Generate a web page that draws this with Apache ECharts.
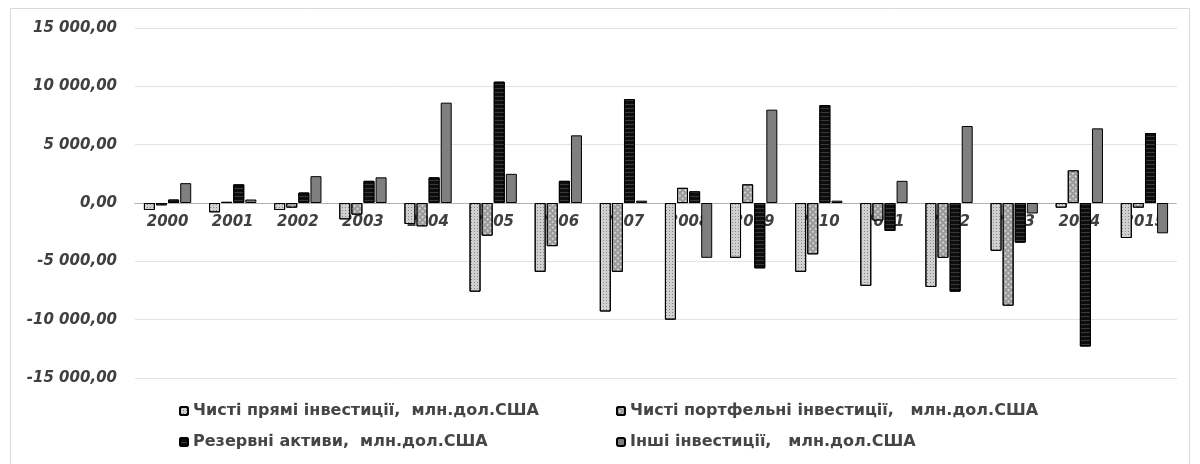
<!DOCTYPE html>
<html><head><meta charset="utf-8">
<script src="https://cdn.jsdelivr.net/npm/echarts@6/dist/echarts.min.js"></script>
<style>html,body{margin:0;padding:0;background:#fff}#c{width:1200px;height:464px}</style>
</head><body><div id="c"></div>
<script>
const years = ['2000','2001','2002','2003','2004','2005','2006','2007','2008','2009','2010','2011','2012','2013','2014','2015'];
const seriesNames = [
  'Чисті прямі інвестиції,  млн.дол.США',
  'Чисті портфельні інвестиції,   млн.дол.США',
  'Резервні активи,  млн.дол.США',
  'Інші інвестиції,   млн.дол.США'
];
const directInv   = [-600, -800, -600, -1400, -1800, -7600, -5900, -9300, -10000, -4700, -5900, -7100, -7200, -4100, -400, -3000];
const portfolioInv= [-200, 100, -400, -1000, -2000, -2800, -3700, -5900, 1300, 1600, -4400, -1500, -4700, -8800, 2800, -400];
const reserveAssets=[300, 1600, 900, 1900, 2200, 10400, 1900, 8900, 1000, -5600, 8400, -2400, -7600, -3400, -12300, 6000];
const otherInv    = [1700, 300, 2300, 2200, 8600, 2500, 5800, 200, -4700, 8000, 200, 1900, 6600, -900, 6400, -2600];
const yMin = -15000, yMax = 15000, yStep = 5000;

const styles = [
  {color:'#d0d0d0', decal:{symbol:'rect', symbolSize:1, color:'rgba(0,0,0,0.35)', dashArrayX:[1,2], dashArrayY:[1,2]}},
  {color:'#9a9a9a', decal:{symbol:'rect', symbolSize:1, color:'rgba(255,255,255,0.55)', dashArrayX:[2,2], dashArrayY:[2,2], rotation:0.78}},
  {color:'#0d0d0d', decal:{symbol:'rect', symbolSize:1, color:'rgba(255,255,255,0.18)', dashArrayX:[1,0], dashArrayY:[1,3]}},
  {color:'#7f7f7f'}
];
const data = [directInv, portfolioInv, reserveAssets, otherInv];

function fmt(v){
  const neg = v < 0; let s = Math.abs(v).toFixed(0);
  s = s.replace(/\B(?=(\d{3})+(?!\d))/g, ' ');
  return (neg ? '-' : '') + s + ',00';
}

const chart = echarts.init(document.getElementById('c'));
const legendPos = [[174,398],[611,398],[174,429],[611,429]];
chart.setOption({
  animation:false,
  backgroundColor:'#fff',
  graphic:[{type:'rect', shape:{x:10.5,y:8.5,width:1179,height:470}, style:{fill:'none', stroke:'#d9d9d9', lineWidth:1}, silent:true}],
  grid:{left:135, right:23, top:28, bottom:86},
  legend: seriesNames.map((n,i)=>({
    data:[n], left:legendPos[i][0], top:legendPos[i][1], itemWidth:8, itemHeight:8, itemGap:6,
    textStyle:{fontFamily:'DejaVu Sans', fontWeight:'bold', fontSize:16, color:'#454545'}
  })),
  xAxis:{type:'category', data:years,
    axisLine:{onZero:true, lineStyle:{color:'#a6a6a6', type:'dotted'}},
    axisTick:{show:false},
    axisLabel:{margin:-163, fontFamily:'DejaVu Sans', fontWeight:'bold', fontStyle:'italic', fontSize:15, color:'#404040'}
  },
  yAxis:{type:'value', min:yMin, max:yMax, interval:yStep,
    axisLine:{show:false}, axisTick:{show:false},
    splitLine:{lineStyle:{color:'#e3e3e3'}},
    axisLabel:{margin:18, formatter:fmt, fontFamily:'DejaVu Sans', fontWeight:'bold', fontStyle:'italic', fontSize:15, color:'#404040'}
  },
  series: seriesNames.map((n,i)=>({
    name:n, type:'bar', data:data[i], barWidth:11, barGap:'10%',
    itemStyle:Object.assign({borderColor:'#000', borderWidth:1}, styles[i])
  }))
});
</script></body></html>
